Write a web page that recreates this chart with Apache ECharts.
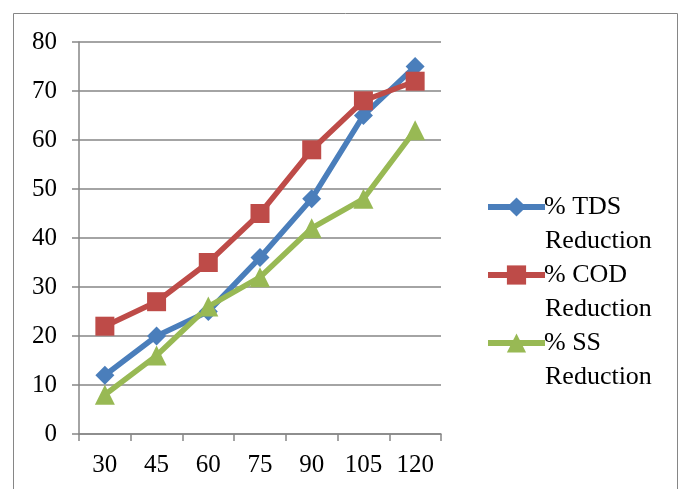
<!DOCTYPE html>
<html><head><meta charset="utf-8">
<script src="https://cdn.jsdelivr.net/npm/echarts@6/dist/echarts.min.js"></script>
<style>html,body{margin:0;padding:0;background:#fff}#c{width:681px;height:489px}</style>
</head><body><div id="c"></div>
<script>
const categories = ['30','45','60','75','90','105','120'];
const tds = [12, 20, 25, 36, 48, 65, 75];
const cod = [22, 27, 35, 45, 58, 68, 72];
const ss = [8, 16, 26, 32, 42, 48, 62];
const seriesNames = ['% TDS Reduction', '% COD Reduction', '% SS Reduction'];
const legendLine1 = ['% TDS', '% COD', '% SS'];
const legendLine2 = ['Reduction', 'Reduction', 'Reduction'];

const font = '"Liberation Serif", "Times New Roman", serif';
const chart = echarts.init(document.getElementById('c'), null, {renderer: 'canvas'});
function mk(name, data, color, symbol, size) {
  return {
    name, type: 'line', data, symbol, symbolSize: size,
    lineStyle: {color, width: 5.5}, itemStyle: {color},
    emphasis: {disabled: true}, animation: false
  };
}
const line2Y = [241, 309, 377];
chart.setOption({
  animation: false,
  grid: {left: 79, right: 240, top: 42, bottom: 55},
  xAxis: {
    type: 'category', data: categories, boundaryGap: true,
    axisLine: {lineStyle: {color: '#868686', width: 1.5}},
    axisTick: {show: true, length: 7, lineStyle: {color: '#868686', width: 1.5}},
    axisLabel: {color: '#000', fontFamily: font, fontSize: 25, margin: 19}
  },
  yAxis: {
    type: 'value', min: 0, max: 80, interval: 10,
    axisLine: {show: true, lineStyle: {color: '#868686', width: 1.5}},
    axisTick: {show: true, length: 7, lineStyle: {color: '#868686', width: 1.5}},
    splitLine: {lineStyle: {color: '#868686', width: 1.5}},
    axisLabel: {color: '#000', fontFamily: font, fontSize: 25, margin: 22}
  },
  legend: {
    orient: 'vertical', left: 485, top: 194, padding: 0,
    itemWidth: 57, itemHeight: 24, itemGap: 42,
    data: seriesNames,
    lineStyle: {width: 6},
    formatter: function (n) { return legendLine1[seriesNames.indexOf(n)]; },
    textStyle: {color: '#000', fontFamily: font, fontSize: 26, lineHeight: 26, padding: [0,0,0,-6]}
  },
  graphic: [
    {type: 'rect', shape: {x: 13.5, y: 13.5, width: 664, height: 520}, style: {fill: 'none', stroke: '#868686', lineWidth: 1}, silent: true},
    {type: 'text', x: 545, y: line2Y[0], style: {text: legendLine2[0], font: '26px ' + font, fill: '#000', verticalAlign: 'middle'}},
    {type: 'text', x: 545, y: line2Y[1], style: {text: legendLine2[1], font: '26px ' + font, fill: '#000', verticalAlign: 'middle'}},
    {type: 'text', x: 545, y: line2Y[2], style: {text: legendLine2[2], font: '26px ' + font, fill: '#000', verticalAlign: 'middle'}}
  ],
  series: [
    mk(seriesNames[0], tds, '#4a7ebb', 'diamond', 19),
    mk(seriesNames[1], cod, '#be4b48', 'rect', 19),
    mk(seriesNames[2], ss, '#98b954', 'triangle', 20)
  ]
});
</script></body></html>
